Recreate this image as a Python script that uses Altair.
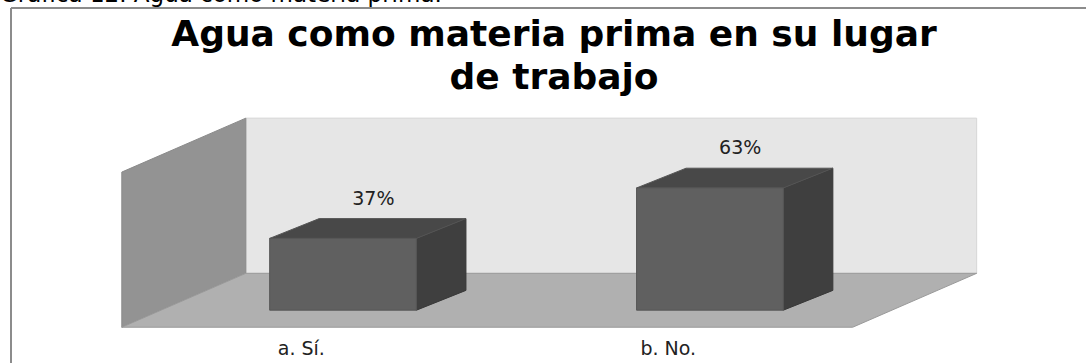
import json
import altair as alt
import pandas as pd

# ---- data ----
categories = ["a. Sí.", "b. No."]
values = [37, 63]
value_labels = ["37%", "63%"]
title_lines = ["Agua como materia prima en su lugar", "de trabajo"]
caption = "Gráfica 12. Agua como materia prima."

# ---- 3D styling constants (data units of the scales) ----
BAR_W = 0.40            # bar width in category units
DX_F, DY_F = 0.115, 8.8   # front face offset (depth into the floor)
DX_B, DY_B = 0.25, 19.0   # back face offset
FLOOR_L, FLOOR_R = -0.488, 1.504
WALL_DX, WALL_DY = 0.338, 27.8
WALL_TOP = 80

X_DOMAIN = [-0.82, 2.14]
Y_DOMAIN = [-4, 112]
W, H = 1086, 225
PAD_TOP, PAD_BOTTOM = 110, 28

xs = alt.Scale(domain=X_DOMAIN, nice=False, zero=False)
ys = alt.Scale(domain=Y_DOMAIN, nice=False, zero=False)

# bar table: each category with a front (0) and back (1) end
rows = []
for i, (c, v, lab) in enumerate(zip(categories, values, value_labels)):
    for end in (0, 1):
        rows.append({"cat": c, "idx": i, "value": v, "label": lab, "end": end})
bars = pd.DataFrame(rows)

base = alt.Chart(bars).transform_calculate(
    dx=f"datum.end == 0 ? {DX_F} : {DX_B}",
    dy=f"datum.end == 0 ? {DY_F} : {DY_B}",
).transform_calculate(
    xl=f"datum.idx + datum.dx - {BAR_W / 2}",
    xr=f"datum.idx + datum.dx + {BAR_W / 2}",
    y0="datum.dy",
    y1="datum.dy + datum.value",
)

# walls / floor
walls = pd.DataFrame({"end": [0, 1]})
wall_base = alt.Chart(walls).transform_calculate(
    wx=f"{FLOOR_L} + datum.end * {WALL_DX}",
    wx2=f"{FLOOR_R} + datum.end * {WALL_DX}",
    wy=f"datum.end * {WALL_DY}",
    wy2=f"datum.end * {WALL_DY} + {WALL_TOP}",
)

back_wall = wall_base.transform_filter("datum.end == 1").mark_rect(
    color="#e6e6e6", stroke="#d6d6d6", strokeWidth=1
).encode(
    x=alt.X("wx:Q", scale=xs, axis=alt.Axis(
        values=[0, 1],
        labelExpr=json.dumps(categories, ensure_ascii=False) + "[datum.value]",
        domain=False, ticks=False, grid=False, title=None,
        labelFontSize=19, labelFont="DejaVu Sans", labelColor="#222222",
        labelPadding=4, labelFlush=False, labelOverlap=False,
    )),
    x2="wx2:Q",
    y=alt.Y("wy:Q", scale=ys, axis=None),
    y2="wy2:Q",
)

left_wall = wall_base.mark_area(
    orient="vertical", color="#939393", stroke="#8a8a8a", strokeWidth=1
).encode(
    x=alt.X("wx:Q", scale=xs),
    y=alt.Y("wy:Q", scale=ys),
    y2="wy2:Q",
)

floor = wall_base.mark_area(
    orient="horizontal", color="#b0b0b0", stroke="#9a9a9a", strokeWidth=1
).encode(
    y=alt.Y("wy:Q", scale=ys),
    x=alt.X("wx:Q", scale=xs),
    x2="wx2:Q",
)

side = base.mark_area(orient="vertical", color="#3f3f3f", stroke="#383838", strokeWidth=1).encode(
    x=alt.X("xr:Q", scale=xs),
    y=alt.Y("y0:Q", scale=ys),
    y2="y1:Q",
    detail="cat:N",
)

top = base.mark_area(orient="horizontal", color="#484848", stroke="#555555", strokeWidth=1).encode(
    y=alt.Y("y1:Q", scale=ys),
    x=alt.X("xl:Q", scale=xs),
    x2="xr:Q",
    detail="cat:N",
)

front = base.transform_filter("datum.end == 0").mark_rect(
    color="#606060", stroke="#575757", strokeWidth=1
).encode(
    x=alt.X("xl:Q", scale=xs),
    x2="xr:Q",
    y=alt.Y("y0:Q", scale=ys),
    y2="y1:Q",
)

labels = alt.Chart(pd.DataFrame({"idx": list(range(len(values))), "value": values,
                                 "label": value_labels})).transform_calculate(
    lx=f"datum.idx + {(DX_F + DX_B) / 2 + 0.015}",
    ly=f"datum.value + {DY_B}",
).mark_text(
    baseline="bottom", dy=-10, fontSize=19, font="DejaVu Sans", color="#222222"
).encode(
    x=alt.X("lx:Q", scale=xs),
    y=alt.Y("ly:Q", scale=ys),
    text="label:N",
)

# chart title (two lines), frame of the figure and cut-off caption
title1 = alt.Chart(pd.DataFrame({"t": [title_lines[0]]})).mark_text(
    align="center", baseline="alphabetic", fontSize=36, font="DejaVu Sans",
    fontWeight="bold", color="#000000"
).encode(x=alt.value(554), y=alt.value(46 - PAD_TOP), text="t:N")
title2 = alt.Chart(pd.DataFrame({"t": [title_lines[1]]})).mark_text(
    align="center", baseline="alphabetic", fontSize=36, font="DejaVu Sans",
    fontWeight="bold", color="#000000"
).encode(x=alt.value(554), y=alt.value(89 - PAD_TOP), text="t:N")

frame_v = alt.Chart(pd.DataFrame({"a": [0]})).mark_rule(color="#8c8c8c", strokeWidth=2).encode(
    x=alt.value(11), y=alt.value(8 - PAD_TOP), y2=alt.value(H + PAD_BOTTOM)
)
frame_h = alt.Chart(pd.DataFrame({"a": [0]})).mark_rule(color="#8c8c8c", strokeWidth=2).encode(
    x=alt.value(11), x2=alt.value(W), y=alt.value(8 - PAD_TOP)
)
cap = alt.Chart(pd.DataFrame({"t": [caption]})).mark_text(
    align="left", baseline="alphabetic", fontSize=23, font="DejaVu Sans", color="#000000"
).encode(x=alt.value(0), y=alt.value(2 - PAD_TOP), text="t:N")

chart = alt.layer(
    back_wall, left_wall, floor, side, top, front, labels,
    title1, title2, frame_v, frame_h, cap
).properties(
    width=W, height=H,
    padding={"top": PAD_TOP, "bottom": PAD_BOTTOM, "left": 0, "right": 0},
    autosize=alt.AutoSizeParams(type="none"),
    background="white",
).configure_view(stroke=None)

chart.save("out.html", embed_options={"renderer": "svg", "actions": False})
